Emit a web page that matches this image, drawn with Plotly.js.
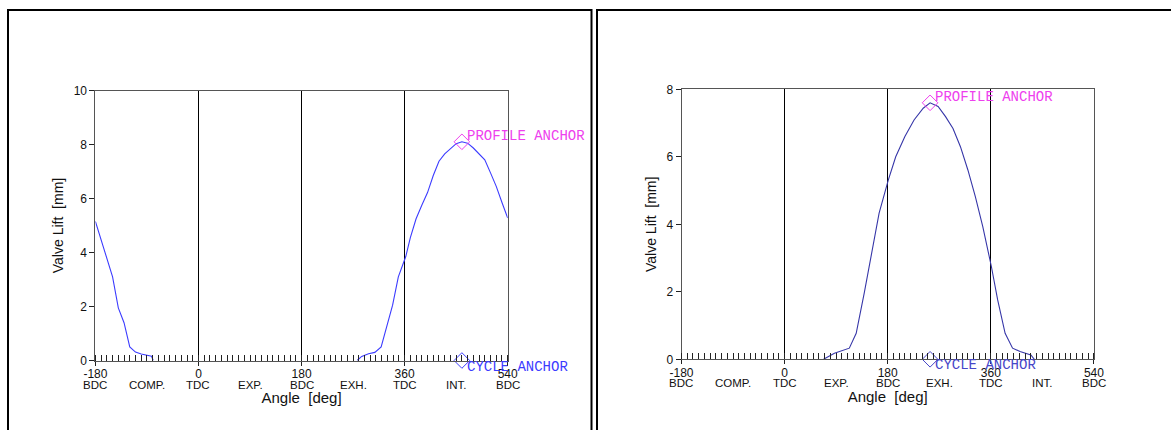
<!DOCTYPE html>
<html>
<head>
<meta charset="utf-8">
<script src="https://cdn.plot.ly/plotly-3.0.1.min.js"></script>
<style>
html,body{margin:0;padding:0;background:#fff;}
#chart{width:1171px;height:430px;}
</style>
</head>
<body>
<div id="chart"></div>
<script>
// ---- data ----
const majorAngles = [-180, 0, 180, 360, 540];
const majorNumbers = ["-180", "0", "180", "360", "540"];
const strokeAngles = [-180, -90, 0, 90, 180, 270, 360, 450, 540];
const strokeLabels = ["BDC", "COMP.", "TDC", "EXP.", "BDC", "EXH.", "TDC", "INT.", "BDC"];

// left panel: intake valve lift (wraps around the cycle)
const intakeAngle = [-180, -170, -160, -150, -140, -130, -120, -110, -100, -90, -82, -79, null,
  277, 285, 297, 308, 319, 329, 339, 349, 356, 362, 370, 380, 390, 400, 410, 420, 430, 440, 450, 460, 470, 480, 490, 500, 510, 520, 530, 540];
const intakeLift = [5.15, 4.45, 3.75, 3.1, 1.95, 1.4, 0.5, 0.31, 0.24, 0.2, 0.16, 0, null,
  0, 0.15, 0.25, 0.3, 0.5, 1.25, 2.05, 3.1, 3.5, 3.85, 4.55, 5.25, 5.75, 6.22, 6.85, 7.38, 7.65, 7.85, 8.03, 8.1, 8.05, 7.87, 7.66, 7.43, 6.95, 6.45, 5.85, 5.28];
const intakeAnchorAngle = 460;
const intakeAnchorLift = 8.1;

// right panel: exhaust valve lift
const exhaustAngle = [68, 87, 113, 125, 139, 152, 165, 181, 194, 210, 226, 242, 254, 268, 281, 294, 307, 320, 333, 346, 361, 372, 385, 398, 411, 430, 436];
const exhaustLift = [0, 0.18, 0.33, 0.77, 1.96, 3.14, 4.33, 5.31, 6.0, 6.6, 7.09, 7.44, 7.6, 7.49, 7.19, 6.84, 6.3, 5.61, 4.82, 3.93, 2.75, 1.76, 0.77, 0.33, 0.23, 0.13, 0];
const exhaustAnchorAngle = 254;
const exhaustAnchorLift = 7.6;

const anchorTexts = ["PROFILE ANCHOR", "CYCLE ANCHOR"];
const xTitle = "Angle  [deg]";
const yTitle = "Valve Lift  [mm]";

// ---- styling ----
const W = 1171, H = 430;
const sans = "Liberation Sans, Arial, sans-serif";
const mono = "Liberation Mono, Courier New, monospace";
const magenta = "#ee40ee";

const panels = [
  {xa: "x", ya: "y", xk: "xaxis", yk: "yaxis", px: [95.4, 507.7], py: [90.5, 360.5], ymax: 10,
   ang: intakeAngle, lift: intakeLift, aa: intakeAnchorAngle, al: intakeAnchorLift,
   color: "#3c3cff", cycColor: "#3c3cff"},
  {xa: "x2", ya: "y2", xk: "xaxis2", yk: "yaxis2", px: [681.5, 1093.9], py: [89.3, 359.3], ymax: 8,
   ang: exhaustAngle, lift: exhaustLift, aa: exhaustAnchorAngle, al: exhaustAnchorLift,
   color: "#3636a8", cycColor: "#4646c8"}
];

const data = [];
const layout = {
  width: W, height: H, autosize: false,
  margin: {l: 0, r: 0, t: 0, b: 0, pad: 0},
  paper_bgcolor: "#fff", plot_bgcolor: "#fff",
  showlegend: false,
  annotations: [],
  shapes: [
    {type: "rect", xref: "paper", yref: "paper", x0: 8 / W, x1: 591.5 / W, y0: -0.1, y1: 1 - 10 / H,
     line: {color: "#000", width: 2}, layer: "above"},
    {type: "rect", xref: "paper", yref: "paper", x0: 597 / W, x1: 1.05, y0: -0.1, y1: 1 - 10 / H,
     line: {color: "#000", width: 2}, layer: "above"}
  ]
};

panels.forEach(p => {
  data.push({x: p.ang, y: p.lift, xaxis: p.xa, yaxis: p.ya, type: "scatter", mode: "lines",
    line: {color: p.color, width: 1.1}, connectgaps: false, hoverinfo: "skip"});
  data.push({x: [p.aa], y: [p.al], xaxis: p.xa, yaxis: p.ya, type: "scatter", mode: "markers",
    marker: {symbol: "diamond-open", size: 12, color: magenta, line: {width: 1, color: magenta}},
    cliponaxis: false, hoverinfo: "skip"});
  data.push({x: [p.aa], y: [0], xaxis: p.xa, yaxis: p.ya, type: "scatter", mode: "markers",
    marker: {symbol: "diamond-open", size: 12, color: p.cycColor, line: {width: 1, color: p.cycColor}},
    cliponaxis: false, hoverinfo: "skip"});

  layout[p.xk] = {
    domain: [p.px[0] / W, p.px[1] / W], anchor: p.ya,
    range: [-180, 540], autorange: false, fixedrange: true,
    tickmode: "array", tickvals: majorAngles, ticktext: majorNumbers,
    ticks: "outside", ticklen: 4, tickcolor: "#222", tickwidth: 1,
    ticklabelstandoff: -2,
    tickfont: {family: sans, size: 12, color: "#111"},
    showgrid: true, gridcolor: "#000", gridwidth: 1,
    zeroline: false,
    showline: true, linecolor: "#555", linewidth: 1, mirror: true,
    minor: {tickmode: "linear", tick0: -180, dtick: 10, ticks: "inside", ticklen: 6,
            tickcolor: "#222", tickwidth: 1, showgrid: false},
    title: {text: xTitle, font: {family: sans, size: 15, color: "#111"}, standoff: 12},
    automargin: false
  };
  layout[p.yk] = {
    domain: [1 - p.py[1] / H, 1 - p.py[0] / H], anchor: p.xa,
    range: [0, p.ymax], autorange: false, fixedrange: true,
    dtick: 2, tick0: 0,
    ticks: "outside", ticklen: 5, tickcolor: "#222",
    tickfont: {family: sans, size: 12, color: "#111"},
    showgrid: false, zeroline: false,
    showline: true, linecolor: "#555", linewidth: 1, mirror: true,
    title: {text: yTitle, font: {family: sans, size: 14, color: "#111"}, standoff: 6},
    automargin: false
  };

  strokeAngles.forEach((a, i) => {
    layout.annotations.push({xref: p.xa, yref: p.ya + " domain", x: a, y: 0,
      yanchor: "top", xanchor: "center", yshift: -16, showarrow: false,
      text: strokeLabels[i], font: {family: sans, size: 11.5, color: "#111"}});
  });
  layout.annotations.push({xref: p.xa, yref: p.ya, x: p.aa, y: p.al, xanchor: "left", yanchor: "middle",
    xshift: 3, yshift: 6, showarrow: false, text: anchorTexts[0],
    font: {family: mono, size: 14, color: magenta}});
  layout.annotations.push({xref: p.xa, yref: p.ya, x: p.aa, y: 0, xanchor: "left", yanchor: "middle",
    xshift: 3, yshift: -6, showarrow: false, text: anchorTexts[1],
    font: {family: mono, size: 14, color: p.cycColor}});
});

Plotly.newPlot("chart", data, layout, {staticPlot: true, displayModeBar: false});
</script>
</body>
</html>
